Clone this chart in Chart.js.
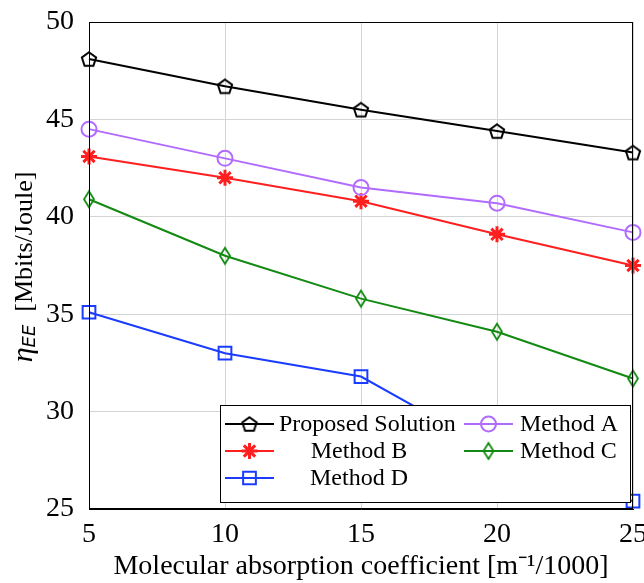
<!DOCTYPE html>
<html>
<head>
<meta charset="utf-8">
<script src="https://cdn.jsdelivr.net/npm/chart.js@4.4.1/dist/chart.umd.min.js"></script>
<style>
  html, body { margin: 0; padding: 0; background: #fff; }
  #wrap { width: 644px; height: 583px; }
</style>
</head>
<body>
<div id="wrap"><canvas id="c" width="644" height="583"></canvas></div>
<script>
const absorption = [5, 10, 15, 20, 25];
const proposed = [48.1, 46.7, 45.5, 44.4, 43.3];
const methodA = [44.5, 43.0, 41.5, 40.7, 39.2];
const methodB = [43.1, 42.0, 40.8, 39.1, 37.5];
const methodC = [40.9, 38.0, 35.8, 34.1, 31.7];
const methodD = [35.1, 33.0, 31.8, 27.9, 25.4];
const yTicks = [25, 30, 35, 40, 45, 50];

const SERIF = '"Liberation Serif", "Times New Roman", serif';

// little marker images for shapes Chart.js doesn't have
function pentagonImg(color) {
  const c = document.createElement('canvas');
  c.width = 20; c.height = 20;
  const g = c.getContext('2d');
  g.strokeStyle = color;
  g.lineWidth = 2;
  g.beginPath();
  for (let i = 0; i < 5; i++) {
    const a = -Math.PI / 2 + i * 2 * Math.PI / 5;
    const px = 10 + 7.5 * Math.cos(a), py = 10.8 + 7.5 * Math.sin(a);
    if (i === 0) g.moveTo(px, py); else g.lineTo(px, py);
  }
  g.closePath();
  g.stroke();
  return c;
}

function diamondImg(color) {
  const c = document.createElement('canvas');
  c.width = 14; c.height = 20;
  const g = c.getContext('2d');
  g.strokeStyle = color;
  g.lineWidth = 1.8;
  g.beginPath();
  g.moveTo(7, 2); g.lineTo(12, 10); g.lineTo(7, 18); g.lineTo(2, 10);
  g.closePath();
  g.stroke();
  return c;
}

const series = [
  { label: 'Proposed Solution', data: proposed, color: '#000000', pointStyle: pentagonImg('#000000'), radius: 8 },
  { label: 'Method A', data: methodA, color: '#b26bff', pointStyle: 'circle', radius: 7.5 },
  { label: 'Method B', data: methodB, color: '#ff1f1f', pointStyle: 'star', radius: 8 },
  { label: 'Method C', data: methodC, color: '#128a12', pointStyle: diamondImg('#128a12'), radius: 8 },
  { label: 'Method D', data: methodD, color: '#1a3cff', pointStyle: 'rect', radius: 9 }
];

const datasets = series.map(s => ({
  label: s.label,
  data: s.data,
  borderColor: s.color,
  backgroundColor: 'rgba(0,0,0,0)',
  borderWidth: 2,
  pointStyle: s.pointStyle,
  pointRadius: s.radius,
  pointBorderColor: s.color,
  pointBackgroundColor: 'rgba(0,0,0,0)',
  pointBorderWidth: s.pointStyle === 'star' ? 3 : 2,
  tension: 0,
  clip: false
}));

// frame, y title and the boxed legend inside the plot
const extras = {
  id: 'extras',
  afterDraw(chart) {
    const ctx = chart.ctx;
    const a = chart.chartArea;
    ctx.save();
    ctx.strokeStyle = '#000';
    ctx.lineWidth = 1;
    ctx.strokeRect(a.left + 0.5, a.top + 0.5, a.right - a.left - 1, a.bottom - a.top - 1);

    // y title
    ctx.translate(32, 267);
    ctx.rotate(-Math.PI / 2);
    ctx.fillStyle = '#000';
    ctx.textBaseline = 'alphabetic';
    const eta = 'η', sub = 'EE', rest = '  [Mbits/Joule]';
    ctx.font = 'italic 30px ' + SERIF;
    const w1 = ctx.measureText(eta).width;
    ctx.font = 'italic 18px "DejaVu Sans", sans-serif';
    const w2 = ctx.measureText(sub).width;
    ctx.font = '26px ' + SERIF;
    const w3 = ctx.measureText(rest).width;
    let x = -(w1 + w2 + w3) / 2;
    ctx.font = 'italic 30px ' + SERIF;
    ctx.fillText(eta, x, 0);
    x += w1;
    ctx.font = 'italic 18px "DejaVu Sans", sans-serif';
    ctx.fillText(sub, x, 3);
    x += w2;
    ctx.font = '26px ' + SERIF;
    ctx.fillText(rest, x, 0);
    ctx.restore();

    // legend
    ctx.save();
    const box = { l: 220, t: 405, r: 630, b: 502 };
    ctx.fillStyle = '#fff';
    ctx.fillRect(box.l, box.t, box.r - box.l, box.b - box.t);
    ctx.strokeStyle = '#000';
    ctx.lineWidth = 1;
    ctx.strokeRect(box.l + 0.5, box.t + 0.5, box.r - box.l, box.b - box.t);
    const slots = [
      { ds: 0, col: 0, row: 0 }, { ds: 1, col: 1, row: 0 },
      { ds: 2, col: 0, row: 1 }, { ds: 3, col: 1, row: 1 },
      { ds: 4, col: 0, row: 2 }
    ];
    const cols = [{ x0: 225, x1: 274, tx: 279, tw: 174 }, { x0: 464, x1: 513, tx: 520, tw: 0 }];
    const rows = [424, 451, 478];
    ctx.font = '24px ' + SERIF;
    ctx.textBaseline = 'middle';
    slots.forEach(sl => {
      const d = chart.data.datasets[sl.ds];
      const c = cols[sl.col], y = rows[sl.row];
      ctx.strokeStyle = d.borderColor;
      ctx.lineWidth = 2;
      ctx.beginPath();
      ctx.moveTo(c.x0, y); ctx.lineTo(c.x1, y);
      ctx.stroke();
      ctx.fillStyle = 'rgba(0,0,0,0)';
      ctx.lineWidth = d.pointBorderWidth;
      Chart.helpers.drawPoint(ctx, {
        pointStyle: d.pointStyle, radius: d.pointRadius, rotation: 0, borderWidth: d.pointBorderWidth
      }, (c.x0 + c.x1) / 2, y);
      ctx.fillStyle = '#000';
      if (sl.col === 0 && sl.ds !== 0) {
        ctx.textAlign = 'center';
        ctx.fillText(d.label, c.tx + c.tw / 2 - 7, y + 1);
      } else {
        ctx.textAlign = 'left';
        ctx.fillText(d.label, c.tx, y + 1);
      }
    });
    ctx.restore();
  }
};

new Chart(document.getElementById('c'), {
  type: 'line',
  data: { labels: absorption, datasets },
  options: {
    responsive: false,
    animation: false,
    layout: { padding: { top: 22, right: 10, left: 0, bottom: 0 } },
    plugins: { legend: { display: false }, tooltip: { enabled: false } },
    scales: {
      x: {
        type: 'linear',
        min: 5, max: 25,
        afterFit(scale) {
          scale.height = 74;
          scale.paddingRight = 0; scale.paddingLeft = 0;
          scale.paddingTop = 0; scale.paddingBottom = 0;
        },
        afterBuildTicks(scale) { scale.ticks = absorption.map(v => ({ value: v })); },
        grid: { color: '#d4d4d4', lineWidth: 1, drawTicks: false },
        border: { color: '#000', width: 1 },
        ticks: { color: '#000', font: { family: SERIF, size: 28 }, padding: 9, maxRotation: 0 },
        title: {
          display: true,
          text: 'Molecular absorption coefficient [m⁻¹/1000]',
          color: '#000',
          font: { family: SERIF, size: 28 },
          padding: { top: 0, bottom: 0 }
        }
      },
      y: {
        min: 25, max: 50,
        afterFit(scale) {
          scale.width = 89;
          scale.paddingTop = 0; scale.paddingBottom = 0;
          scale.paddingLeft = 0; scale.paddingRight = 0;
        },
        afterBuildTicks(scale) { scale.ticks = yTicks.map(v => ({ value: v })); },
        grid: { color: '#d4d4d4', lineWidth: 1, drawTicks: false },
        border: { color: '#000', width: 1 },
        ticks: { color: '#000', font: { family: SERIF, size: 28 }, padding: 15 }
      }
    }
  },
  plugins: [extras]
});
</script>
</body>
</html>
